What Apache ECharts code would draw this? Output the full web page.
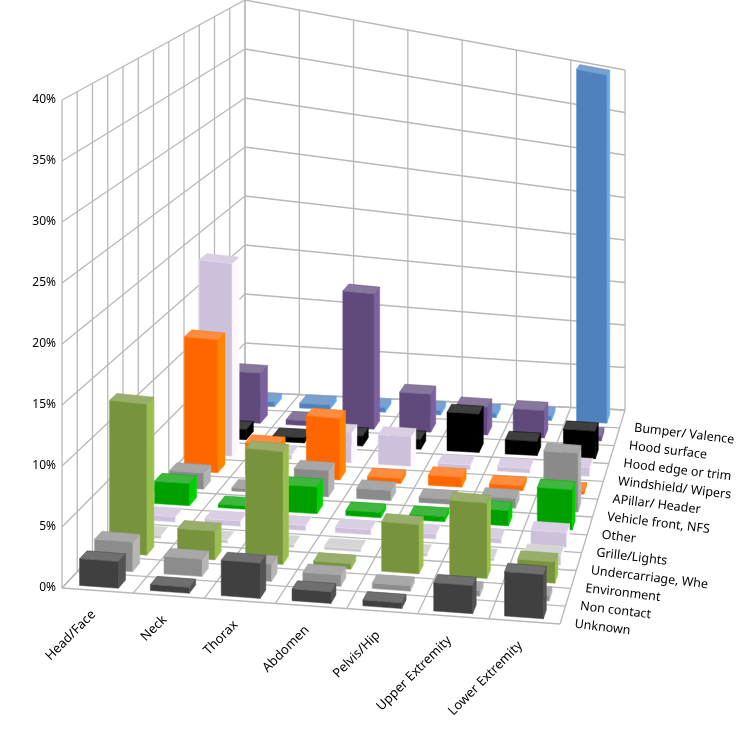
<!DOCTYPE html>
<html><head><meta charset="utf-8">
<script src="https://cdn.jsdelivr.net/npm/echarts@6/dist/echarts.min.js"></script>
<style>html,body{margin:0;padding:0;background:#fff}#c{width:745px;height:742px}</style>
</head><body><div id="c"></div>
<script>
const categories = ['Head/Face','Neck','Thorax','Abdomen','Pelvis/Hip','Upper Extremity','Lower Extremity'];
// front to back
const seriesNames = ['Unknown','Non contact','Environment','Undercarriage, Whe','Grille/Lights','Other','Vehicle front, NFS','APillar/ Header','Windshield/ Wipers','Hood edge or trim','Hood surface','Bumper/ Valence'];
const seriesColors = ['#404040','#8c8c8c','#77933C','#c8c8c8','#CCC0DA','#00A000','#8a8a8a','#FF6600','#CCC0DA','#000000','#604A7B','#4F81BD'];
const unknownV      = [2.2,0.5,3,1,0.5,2.5,4];
const nonContactV   = [2.5,1.5,1.5,1,0.5,0.5,0.5];
const environmentV  = [13,2.5,10,0.5,4.5,7,2];
const undercarV     = [0.3,0.3,0.3,0.3,0.3,0.3,1];
const grilleV       = [0.5,0.5,0.5,0.5,0.5,0.5,1.5];
const otherV        = [2,0.3,2.5,0.5,0.5,1.5,4];
const vehFrontV     = [1.5,0.3,2.5,1,0.5,1,6];
const aPillarV      = [12.5,3,6,0.5,1,0.5,0.3];
const windshieldV   = [18.5,0.5,3,3,0.5,0.5,1];
const hoodEdgeV     = [1,0.5,1,1,4,1.5,3];
const hoodSurfaceV  = [5,0.5,14,4,3,3,0.5];
const bumperV       = [0.5,0.5,0.5,0.5,0.5,0.5,40];
const yTicks = ['0%','5%','10%','15%','20%','25%','30%','35%','40%'];
const allSeries = [unknownV,nonContactV,environmentV,undercarV,grilleV,otherV,vehFrontV,aPillarV,windshieldV,hoodEdgeV,hoodSurfaceV,bumperV];

const FL=[62,588],FR=[560,624],BL=[245,392],BR=[625,410];
const SFL=12.2,SFR=11.0,SBL=9.8,SBR=8.5; // px per percent
function proj(u,v,h){
  const x=(1-u)*(1-v)*FL[0]+u*(1-v)*FR[0]+(1-u)*v*BL[0]+u*v*BR[0];
  const y=(1-u)*(1-v)*FL[1]+u*(1-v)*FR[1]+(1-u)*v*BL[1]+u*v*BR[1];
  const s=(1-u)*(1-v)*SFL+u*(1-v)*SFR+(1-u)*v*SBL+u*v*SBR;
  return [x,y-h*s];
}
const NC=categories.length, NS=seriesNames.length, TOP=40;
const data=[];
for(let j=NS-1;j>=0;j--) for(let i=0;i<NC;i++) data.push([i,j,allSeries[j][i]]);

const graphics=[];
const gl={stroke:'#b8b8b8',lineWidth:1.3};
function line(a,b){graphics.push({type:'line',shape:{x1:a[0],y1:a[1],x2:b[0],y2:b[1]},style:gl,silent:true});}
for(let k=0;k<=8;k++){const h=k*5;line(proj(0,0,h),proj(0,1,h));line(proj(0,1,h),proj(1,1,h));}
for(let j=0;j<=NS;j++){const v=j/NS;line(proj(0,v,0),proj(0,v,TOP));line(proj(0,v,0),proj(1,v,0));}
for(let i=0;i<=NC;i++){const u=i/NC;line(proj(u,1,0),proj(u,1,TOP));line(proj(u,0,0),proj(u,1,0));}
const font='12px "Noto Sans", sans-serif';
yTicks.forEach((t,k)=>{const p=proj(0,0,k*5);graphics.push({type:'text',x:p[0]-6,y:p[1],style:{text:t,font:font,fill:'#000',align:'right',verticalAlign:'middle'}});});
categories.forEach((c,i)=>{const p=proj((i+0.5)/NC,0,0);graphics.push({type:'text',x:p[0]-4,y:p[1]+22,rotation:Math.PI/4,style:{text:c,font:'13px "Noto Sans", sans-serif',fill:'#000',align:'right',verticalAlign:'middle'}});});
seriesNames.forEach((n,j)=>{const p=proj(1,(j+0.5)/NS,0);graphics.push({type:'text',x:p[0]+12,y:p[1]+9,rotation:-0.12,style:{text:n,font:'12.5px "Noto Sans", sans-serif',fill:'#000',align:'left',verticalAlign:'middle'}});});

const chart=echarts.init(document.getElementById('c'));
chart.setOption({
  animation:false,
  graphic:{elements:graphics},
  series:[{type:'custom',coordinateSystem:'none',data:data,z:10,
    renderItem:function(params,api){
      const i=api.value(0),j=api.value(1),h=api.value(2);
      const u0=(i+0.2)/NC,u1=(i+0.75)/NC,v0=(j+0.22)/NS,v1=(j+0.72)/NS;
      const c=seriesColors[j];
      const front=[proj(u0,v0,0),proj(u1,v0,0),proj(u1,v0,h),proj(u0,v0,h)];
      const side=[proj(u1,v0,0),proj(u1,v1,0),proj(u1,v1,h),proj(u1,v0,h)];
      const top=[proj(u0,v0,h),proj(u1,v0,h),proj(u1,v1,h),proj(u0,v1,h)];
      return {type:'group',children:[
        {type:'polygon',shape:{points:side},style:{fill:echarts.color.lift(c,-0.3),stroke:echarts.color.lift(c,-0.4),lineWidth:0.5}},
        {type:'polygon',shape:{points:front},style:{fill:c,stroke:echarts.color.lift(c,-0.2),lineWidth:0.5}},
        {type:'polygon',shape:{points:top},style:{fill:echarts.color.lift(c,0.25),stroke:echarts.color.lift(c,-0.1),lineWidth:0.5}}
      ]};
    }}]
});
</script></body></html>
